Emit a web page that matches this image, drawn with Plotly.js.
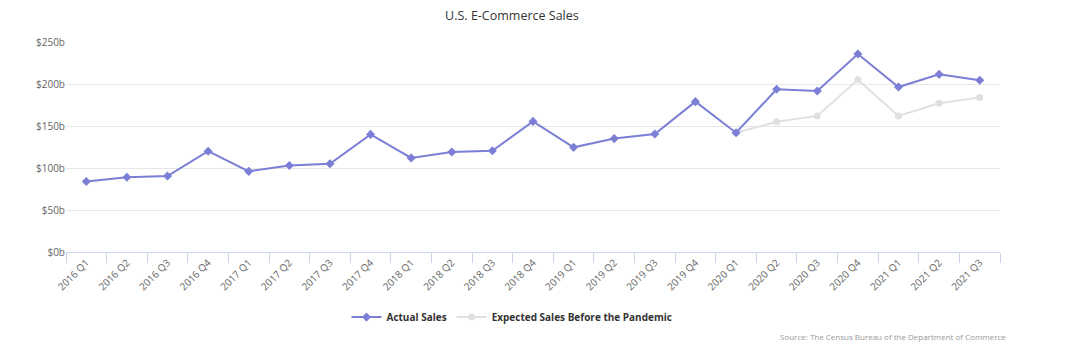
<!DOCTYPE html>
<html><head><meta charset="utf-8">
<script src="https://cdn.plot.ly/plotly-3.0.1.min.js"></script>
<style>html,body{margin:0;padding:0;background:#fff}#c{width:1080px;height:352px}</style>
</head><body><div id="c"></div>
<script>
var quarters = ["2016 Q1","2016 Q2","2016 Q3","2016 Q4","2017 Q1","2017 Q2","2017 Q3","2017 Q4","2018 Q1","2018 Q2","2018 Q3","2018 Q4","2019 Q1","2019 Q2","2019 Q3","2019 Q4","2020 Q1","2020 Q2","2020 Q3","2020 Q4","2021 Q1","2021 Q2","2021 Q3"];
var actualSales = [84, 89, 90.5, 120, 96, 103, 105, 140, 112, 119, 120.5, 155.5, 124.6, 135, 140.5, 179, 142, 193.7, 191.7, 235.7, 196.4, 211.5, 204.4];
var expectedQuarters = ["2020 Q1","2020 Q2","2020 Q3","2020 Q4","2021 Q1","2021 Q2","2021 Q3"];
var expectedSales = [142, 155, 162, 205, 162, 177, 184];
var yTickVals = [0, 50, 100, 150, 200, 250];
var yTickText = ["$0b","$50b","$100b","$150b","$200b","$250b"];

var font = "Open Sans, sans-serif";
var traces = [
  {x: expectedQuarters, y: expectedSales, name: "Expected Sales Before the Pandemic", mode: "lines+markers", legendrank: 2,
   line: {color: "#e0e0e0", width: 2}, marker: {symbol: "circle", size: 7, color: "#e0e0e0"}},
  {x: quarters, y: actualSales, name: "Actual Sales", mode: "lines+markers", legendrank: 1,
   line: {color: "#7b7fd6", width: 2}, marker: {symbol: "diamond", size: 7, color: "#7b7fd6"}}
];
var layout = {
  width: 1080, height: 352,
  margin: {l: 66, r: 80, t: 42, b: 100},
  paper_bgcolor: "#fff", plot_bgcolor: "#fff",
  font: {family: font, color: "#666", size: 10},
  title: {text: "U.S. E-Commerce Sales", font: {family: font, size: 12.5, color: "#333"}, x: 0.474, xanchor: "center", y: 0.955, yanchor: "middle"},
  xaxis: {type: "category", categoryorder: "array", categoryarray: quarters, range: [-0.5, 22.5],
    tickangle: -45, ticks: "outside", tickson: "boundaries", ticklen: 10, tickcolor: "#ccd6eb",
    showline: true, linecolor: "#ccd6eb", linewidth: 1, showgrid: false, zeroline: false,
    tickfont: {family: font, size: 10, color: "#666"}, fixedrange: true},
  yaxis: {range: [0, 250], tickvals: yTickVals, ticktext: yTickText, showgrid: true, gridcolor: "#e6e6e6",
    zeroline: false, showline: false, ticks: "", tickfont: {family: font, size: 10, color: "#666"}, fixedrange: true},
  showlegend: true,
  legend: {orientation: "h", traceorder: "normal", x: 0.4775, xanchor: "center", y: -0.31, yanchor: "middle",
    font: {family: font, size: 10, color: "#333", weight: "bold"}, itemwidth: 30},
  annotations: [{text: "Source: The Census Bureau of the Department of Commerce", xref: "paper", yref: "paper",
    x: 0.762, xanchor: "left", y: -0.4, yanchor: "middle", showarrow: false,
    font: {family: font, size: 8, color: "#999"}}]
};
Plotly.newPlot("c", traces, layout, {displayModeBar: false, staticPlot: true});
</script></body></html>
